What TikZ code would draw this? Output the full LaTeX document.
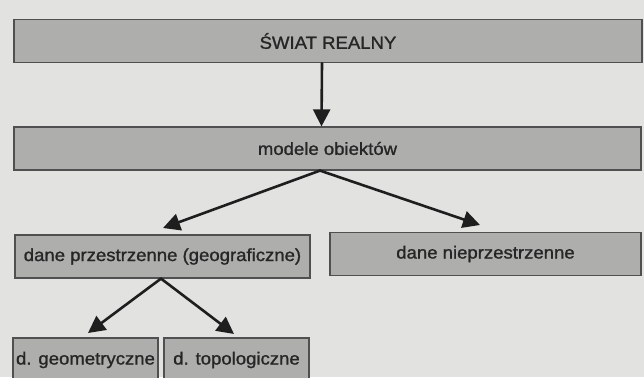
\documentclass[tikz,border=0pt]{standalone}
\usepackage{fontspec}
\setmainfont{Liberation Sans}[FakeStretch=1.06,FakeBold=1.2]
\usetikzlibrary{arrows.meta}
\definecolor{paper}{HTML}{E2E2E0}
\definecolor{boxfill}{HTML}{AEAEAC}
\definecolor{boxline}{HTML}{505050}
\definecolor{ink}{HTML}{262626}
\definecolor{pen}{HTML}{1E1E1E}
\tikzset{
  box/.style={draw=boxline, line width=1.2pt, fill=boxfill, text=ink,
    inner sep=0pt, minimum height=43pt,
    font=\fontsize{17.5}{19}\selectfont},
  arr/.style={draw=pen, line width=2.6pt, line cap=round,
    -{Triangle[length=17pt,width=17pt]}}
}
\begin{document}
\begin{tikzpicture}[x=1pt,y=-1pt]
\useasboundingbox (0,0) rectangle (644,377);
\fill[paper] (0,0) rectangle (644,377);
\clip (0,0) rectangle (644,377);

% levels of the hierarchy
\node[box, minimum width=628pt] (swiat) at (328,41) {ŚWIAT REALNY};
\node[box, minimum width=627pt] (model) at (327.5,148.5) {modele obiektów};
\node[box, minimum width=295pt] (przestrz) at (162.5,256.5) {dane przestrzenne (geograficzne)};
\node[box, minimum width=311pt] (nieprz) at (485.5,254) {dane nieprzestrzenne};
\node[box, minimum width=145pt, minimum height=44pt] (geom) at (85.5,360) {d. geometryczne};
\node[box, minimum width=145pt, minimum height=44pt] (topo) at (236.5,360) {d. topologiczne};

% arrow tips
\coordinate (tPrz) at (163,228);
\coordinate (tNie) at (480,225);
\coordinate (tGeo) at (88,333);
\coordinate (tTop) at (234,334);

% connectors
\draw[arr] ([xshift=-6pt]swiat.south) -- ([xshift=-6pt]model.north);
\draw[arr] ([xshift=-7.5pt]model.south) -- (tPrz);
\draw[arr] ([xshift=-7.5pt]model.south) -- (tNie);
\draw[arr] ([xshift=-1.5pt]przestrz.south) -- (tGeo);
\draw[arr] ([xshift=-1.5pt]przestrz.south) -- (tTop);
\end{tikzpicture}
\end{document}
